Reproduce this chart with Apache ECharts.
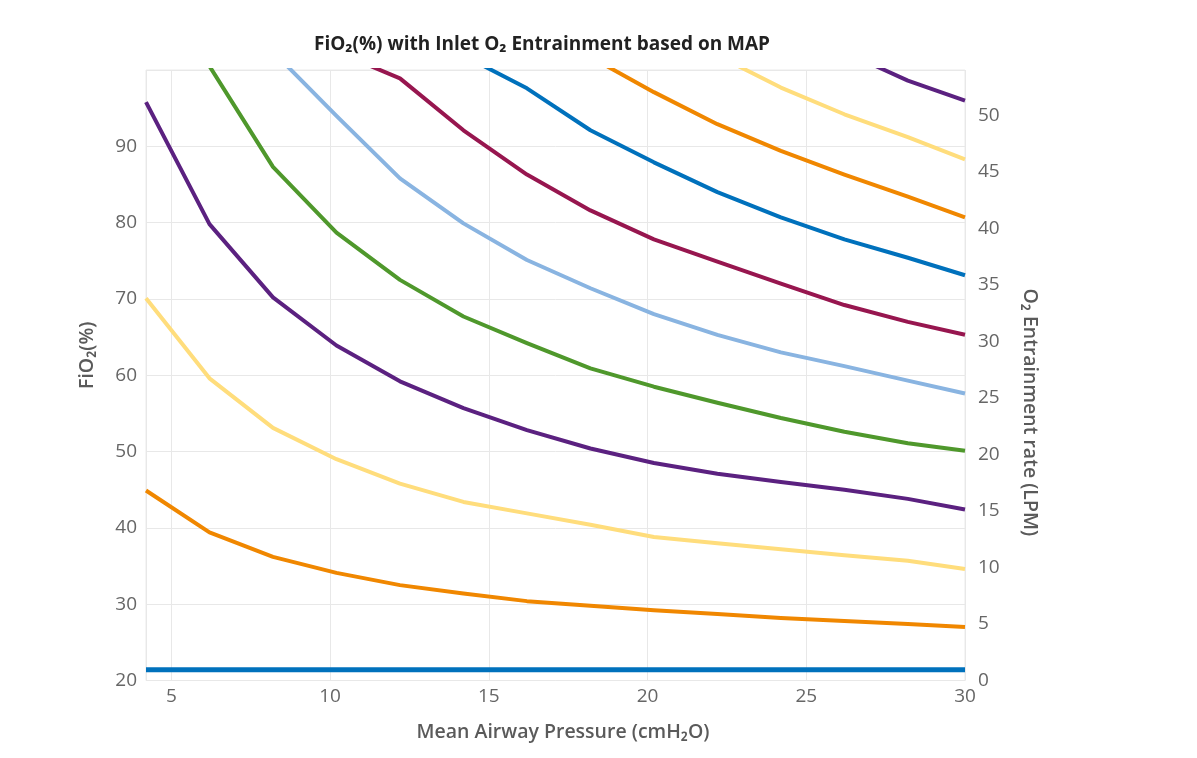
<!DOCTYPE html>
<html>
<head>
<meta charset="utf-8">
<script src="https://cdn.jsdelivr.net/npm/echarts@6/dist/echarts.min.js"></script>
<style>
html,body{margin:0;padding:0;background:#fff;}
#chart{width:1197px;height:758px;}
</style>
</head>
<body>
<div id="chart"></div>
<script>
// Mean airway pressure (cmH2O) at which the curves have vertices
var mapValues = [4.2, 6.2, 8.2, 10.2, 12.2, 14.2, 16.2, 18.2, 20.2, 22.2, 24.2, 26.2, 28.2, 30];
// FiO2 (%) curves, bottom to top
var fio2Room     = [21.4, 21.4, 21.4, 21.4, 21.4, 21.4, 21.4, 21.4, 21.4, 21.4, 21.4, 21.4, 21.4, 21.4];
var fio2Orange1  = [44.9, 39.4, 36.2, 34.1, 32.5, 31.4, 30.4, 29.8, 29.2, 28.7, 28.2, 27.8, 27.4, 27.0];
var fio2Yellow1  = [70.1, 59.6, 53.1, 49.0, 45.8, 43.4, 41.9, 40.4, 38.8, 38.0, 37.2, 36.4, 35.7, 34.6];
var fio2Purple1  = [95.8, 79.8, 70.2, 63.9, 59.2, 55.7, 52.8, 50.4, 48.5, 47.1, 46.0, 45.0, 43.8, 42.4];
var fio2Green    = [null, 100.5, 87.3, 78.7, 72.5, 67.7, 64.2, 60.9, 58.5, 56.4, 54.4, 52.6, 51.1, 50.1];
var fio2LightBlue= [null, null, 102.4, 94.0, 85.8, 79.9, 75.1, 71.4, 68.0, 65.3, 63.0, 61.2, 59.3, 57.6];
var fio2Crimson  = [null, null, null, 102.4, 98.9, 92.1, 86.3, 81.6, 77.8, 74.9, 72.0, 69.2, 67.0, 65.3];
var fio2Blue     = [null, null, null, null, null, 101.9, 97.6, 92.1, 87.9, 84.0, 80.7, 77.8, 75.4, 73.1];
var fio2Orange2  = [null, null, null, null, null, null, null, 101.7, 97.1, 92.9, 89.4, 86.3, 83.4, 80.7];
var fio2Yellow2  = [null, null, null, null, null, null, null, null, null, 101.9, 97.7, 94.2, 91.2, 88.3];
var fio2Purple2  = [null, null, null, null, null, null, null, null, null, null, null, 102.4, 98.6, 96.0];

var curves = [
  {data: fio2Room, color: '#0071BC', width: 5},
  {data: fio2Orange1, color: '#F08700', width: 4},
  {data: fio2Yellow1, color: '#FFDD7C', width: 4},
  {data: fio2Purple1, color: '#5B2180', width: 4},
  {data: fio2Green, color: '#4F982C', width: 4},
  {data: fio2LightBlue, color: '#89B4E1', width: 4},
  {data: fio2Crimson, color: '#97164F', width: 4},
  {data: fio2Blue, color: '#0071BC', width: 4},
  {data: fio2Orange2, color: '#F08700', width: 4},
  {data: fio2Yellow2, color: '#FFDD7C', width: 4},
  {data: fio2Purple2, color: '#5B2180', width: 4}
];

var FONT = '"Open Sans", "Noto Sans", sans-serif';
var chart = echarts.init(document.getElementById('chart'), null, {renderer: 'canvas'});
var series = curves.map(function (c) {
  return {
    type: 'line',
    data: mapValues.map(function (x, i) { return [x, c.data[i]]; }),
    showSymbol: false,
    symbol: 'none',
    clip: true,
    connectNulls: false,
    lineStyle: {color: c.color, width: c.width, cap: 'butt', join: 'round'},
    itemStyle: {color: c.color},
    emphasis: {disabled: true},
    yAxisIndex: 0
  };
});
series.push({type: 'line', yAxisIndex: 1, data: [], showSymbol: false});

chart.setOption({
  animation: false,
  backgroundColor: '#ffffff',
  title: {
    text: 'FiO\u2082(%) with Inlet O\u2082 Entrainment based on MAP',
    left: 537, top: 30, textAlign: 'center',
    textStyle: {fontFamily: FONT, fontSize: 19, fontWeight: 'bold', color: '#222222'}
  },
  grid: {left: 146, right: 232, top: 70, bottom: 77.5, show: true, borderColor: '#ebebeb', borderWidth: 1},
  xAxis: {
    type: 'value', min: 4.2, max: 30, splitNumber: 5,
    name: 'Mean Airway Pressure (cmH\u2082O)', nameLocation: 'middle', nameGap: 42,
    nameTextStyle: {fontFamily: FONT, fontSize: 19.5, fontWeight: 600, color: '#5a5a5a', padding: [0, 0, 0, 15]},
    axisLine: {show: false}, axisTick: {show: false},
    axisLabel: {showMinLabel: false, fontFamily: FONT, fontSize: 19, color: '#666666', margin: 7},
    splitLine: {show: true, lineStyle: {color: '#e8e8e8', width: 1}}
  },
  yAxis: [{
    type: 'value', min: 20, max: 100, interval: 10, position: 'left',
    name: 'FiO\u2082(%)', nameLocation: 'middle', nameGap: 49, nameRotate: 90,
    nameTextStyle: {fontFamily: FONT, fontSize: 19.5, fontWeight: 600, color: '#5a5a5a', padding: [0, 0, 0, 40]},
    axisLine: {show: false}, axisTick: {show: false},
    axisLabel: {showMaxLabel: false, fontFamily: FONT, fontSize: 19, color: '#666666', margin: 9},
    splitLine: {show: true, lineStyle: {color: '#e8e8e8', width: 1}}
  }, {
    type: 'value', min: 0, max: 54, interval: 5, position: 'right',
    name: 'O\u2082 Entrainment rate (LPM)', nameLocation: 'middle', nameGap: 55, nameRotate: -90,
    nameTextStyle: {fontFamily: FONT, fontSize: 19.5, fontWeight: 600, color: '#5a5a5a', padding: [0, 0, 0, 74]},
    axisLine: {show: false}, axisTick: {show: false},
    axisLabel: {showMaxLabel: false, fontFamily: FONT, fontSize: 19, color: '#666666', margin: 13},
    splitLine: {show: false}
  }],
  series: series
});
</script>
</body>
</html>
